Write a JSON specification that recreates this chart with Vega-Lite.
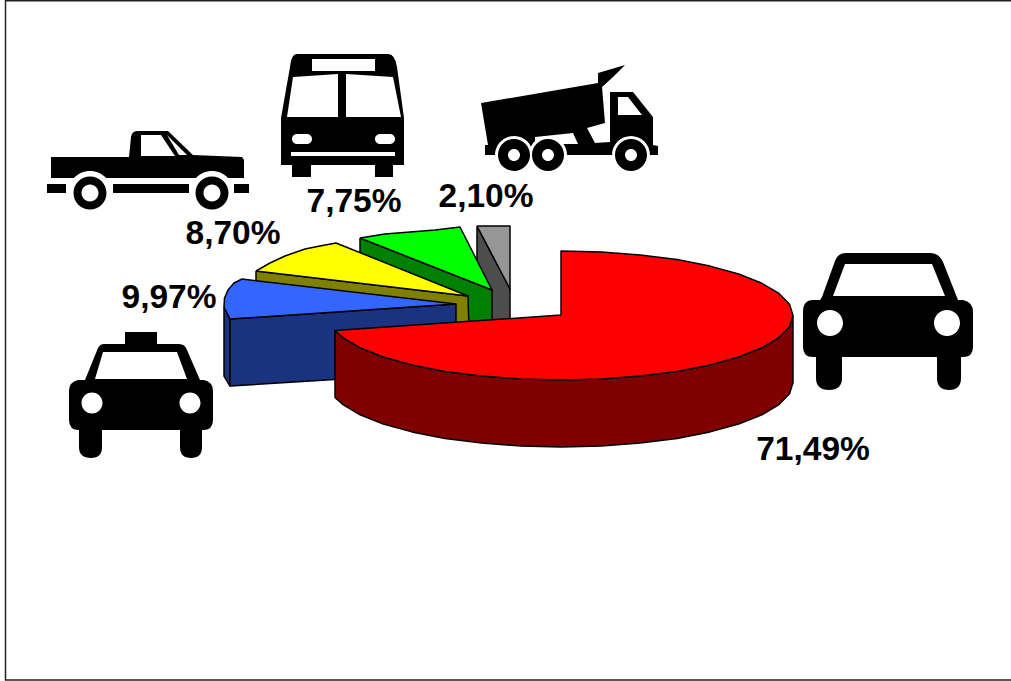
{"$schema":"https://vega.github.io/schema/vega-lite/v6.json","width":1011,"height":681,"padding":0,"autosize":"none","background":"white","config":{"view":{"stroke":null}},
"datasets":{
"shares":[
{"vehicle":"Automóvil","share":71.49,"label":"71,49%","label_x":813,"label_y":460,"icon_x":888,"icon_y":321},
{"vehicle":"Taxi","share":9.97,"label":"9,97%","label_x":169,"label_y":308,"icon_x":141,"icon_y":395},
{"vehicle":"Camioneta","share":8.70,"label":"8,70%","label_x":233,"label_y":244,"icon_x":148,"icon_y":171},
{"vehicle":"Bus","share":7.75,"label":"7,75%","label_x":354,"label_y":212,"icon_x":343,"icon_y":115},
{"vehicle":"Camión","share":2.10,"label":"2,10%","label_x":486,"label_y":207,"icon_x":570,"icon_y":118}],
"frame":[{"i":0,"x":1012,"y":0.8},{"i":1,"x":5.5,"y":0.8},{"i":2,"x":5.5,"y":680},{"i":3,"x":1012,"y":680}],
"faces":[
{"face":"Camión lado","i":0,"x":477,"y":226},{"face":"Camión lado","i":1,"x":510,"y":289},{"face":"Camión lado","i":2,"x":510,"y":330},{"face":"Camión lado","i":3,"x":477,"y":330},{"face":"Camión lado","i":4,"x":477,"y":226},
{"face":"Camión","i":0,"x":477,"y":226},{"face":"Camión","i":1,"x":510,"y":226},{"face":"Camión","i":2,"x":510,"y":289},{"face":"Camión","i":3,"x":477,"y":226},
{"face":"Bus lado","i":0,"x":360,"y":238},{"face":"Bus lado","i":1,"x":492,"y":290},{"face":"Bus lado","i":2,"x":492,"y":330},{"face":"Bus lado","i":3,"x":360,"y":300},{"face":"Bus lado","i":4,"x":360,"y":238},
{"face":"Bus","i":0,"x":360,"y":238},{"face":"Bus","i":1,"x":385,"y":234},{"face":"Bus","i":2,"x":410,"y":232},{"face":"Bus","i":3,"x":435,"y":230},{"face":"Bus","i":4,"x":460,"y":227},{"face":"Bus","i":5,"x":492,"y":290},{"face":"Bus","i":6,"x":360,"y":238},
{"face":"Camioneta lado","i":0,"x":256,"y":271},{"face":"Camioneta lado","i":1,"x":468,"y":296},{"face":"Camioneta lado","i":2,"x":469,"y":330},{"face":"Camioneta lado","i":3,"x":256,"y":290},{"face":"Camioneta lado","i":4,"x":256,"y":271},
{"face":"Camioneta","i":0,"x":256,"y":271},{"face":"Camioneta","i":1,"x":270,"y":263},{"face":"Camioneta","i":2,"x":285,"y":256},{"face":"Camioneta","i":3,"x":305,"y":249},{"face":"Camioneta","i":4,"x":320,"y":246},{"face":"Camioneta","i":5,"x":336,"y":243},{"face":"Camioneta","i":6,"x":468,"y":296},{"face":"Camioneta","i":7,"x":256,"y":271},
{"face":"Taxi borde","i":0,"x":224,"y":307},{"face":"Taxi borde","i":1,"x":230,"y":319},{"face":"Taxi borde","i":2,"x":230,"y":386},{"face":"Taxi borde","i":3,"x":224,"y":376},{"face":"Taxi borde","i":4,"x":224,"y":307},
{"face":"Taxi lado","i":0,"x":230,"y":319},{"face":"Taxi lado","i":1,"x":456,"y":304},{"face":"Taxi lado","i":2,"x":456,"y":372},{"face":"Taxi lado","i":3,"x":230,"y":386},{"face":"Taxi lado","i":4,"x":230,"y":319},
{"face":"Taxi","i":0,"x":456,"y":304},{"face":"Taxi","i":1,"x":242,"y":279},{"face":"Taxi","i":2,"x":234,"y":283},{"face":"Taxi","i":3,"x":228,"y":290},{"face":"Taxi","i":4,"x":224.5,"y":298},{"face":"Taxi","i":5,"x":224,"y":307},{"face":"Taxi","i":6,"x":230,"y":319},{"face":"Taxi","i":7,"x":456,"y":304},
{"face":"Automóvil lado","i":0,"x":793,"y":315.5},{"face":"Automóvil lado","i":1,"x":789.5,"y":326.7},{"face":"Automóvil lado","i":2,"x":779,"y":337.6},{"face":"Automóvil lado","i":3,"x":761.9,"y":347.8},{"face":"Automóvil lado","i":4,"x":738.7,"y":357},{"face":"Automóvil lado","i":5,"x":710.1,"y":364.9},{"face":"Automóvil lado","i":6,"x":677,"y":371.4},{"face":"Automóvil lado","i":7,"x":640.3,"y":376.1},{"face":"Automóvil lado","i":8,"x":601.3,"y":379},{"face":"Automóvil lado","i":9,"x":561,"y":380},{"face":"Automóvil lado","i":10,"x":520.7,"y":379},{"face":"Automóvil lado","i":11,"x":481.7,"y":376.1},{"face":"Automóvil lado","i":12,"x":445,"y":371.4},{"face":"Automóvil lado","i":13,"x":411.9,"y":364.9},{"face":"Automóvil lado","i":14,"x":383.3,"y":357},{"face":"Automóvil lado","i":15,"x":360.1,"y":347.8},{"face":"Automóvil lado","i":16,"x":343,"y":337.6},{"face":"Automóvil lado","i":17,"x":335,"y":330.5},
{"face":"Automóvil lado","i":18,"x":335,"y":397.5},{"face":"Automóvil lado","i":19,"x":343,"y":404.6},{"face":"Automóvil lado","i":20,"x":360.1,"y":414.8},{"face":"Automóvil lado","i":21,"x":383.3,"y":424},{"face":"Automóvil lado","i":22,"x":411.9,"y":431.9},{"face":"Automóvil lado","i":23,"x":445,"y":438.4},{"face":"Automóvil lado","i":24,"x":481.7,"y":443.1},{"face":"Automóvil lado","i":25,"x":520.7,"y":446},{"face":"Automóvil lado","i":26,"x":561,"y":447},{"face":"Automóvil lado","i":27,"x":601.3,"y":446},{"face":"Automóvil lado","i":28,"x":640.3,"y":443.1},{"face":"Automóvil lado","i":29,"x":677,"y":438.4},{"face":"Automóvil lado","i":30,"x":710.1,"y":431.9},{"face":"Automóvil lado","i":31,"x":738.7,"y":424},{"face":"Automóvil lado","i":32,"x":761.9,"y":414.8},{"face":"Automóvil lado","i":33,"x":779,"y":404.6},{"face":"Automóvil lado","i":34,"x":789.5,"y":393.7},{"face":"Automóvil lado","i":35,"x":793,"y":382.5},{"face":"Automóvil lado","i":36,"x":793,"y":315.5},
{"face":"Automóvil","i":0,"x":561,"y":315},{"face":"Automóvil","i":1,"x":561,"y":251},{"face":"Automóvil","i":2,"x":601.3,"y":252},{"face":"Automóvil","i":3,"x":640.3,"y":254.9},{"face":"Automóvil","i":4,"x":677,"y":259.6},{"face":"Automóvil","i":5,"x":710.1,"y":266.1},{"face":"Automóvil","i":6,"x":738.7,"y":274},{"face":"Automóvil","i":7,"x":761.9,"y":283.3},{"face":"Automóvil","i":8,"x":779,"y":293.4},{"face":"Automóvil","i":9,"x":789.5,"y":304.3},{"face":"Automóvil","i":10,"x":793,"y":315.5},{"face":"Automóvil","i":11,"x":789.5,"y":326.7},{"face":"Automóvil","i":12,"x":779,"y":337.6},{"face":"Automóvil","i":13,"x":761.9,"y":347.8},{"face":"Automóvil","i":14,"x":738.7,"y":357},{"face":"Automóvil","i":15,"x":710.1,"y":364.9},{"face":"Automóvil","i":16,"x":677,"y":371.4},{"face":"Automóvil","i":17,"x":640.3,"y":376.1},{"face":"Automóvil","i":18,"x":601.3,"y":379},{"face":"Automóvil","i":19,"x":561,"y":380},{"face":"Automóvil","i":20,"x":520.7,"y":379},{"face":"Automóvil","i":21,"x":481.7,"y":376.1},{"face":"Automóvil","i":22,"x":445,"y":371.4},{"face":"Automóvil","i":23,"x":411.9,"y":364.9},{"face":"Automóvil","i":24,"x":383.3,"y":357},{"face":"Automóvil","i":25,"x":360.1,"y":347.8},{"face":"Automóvil","i":26,"x":343,"y":337.6},{"face":"Automóvil","i":27,"x":335,"y":330.5},{"face":"Automóvil","i":28,"x":561,"y":315}
]},
"layer":[
{"data":{"name":"frame"},"mark":{"type":"line","stroke":"#222222","strokeWidth":1.5,"clip":false},"encoding":{"x":{"field":"x","type":"quantitative","scale":{"domain":[0,1011],"nice":false,"zero":false},"axis":null},"y":{"field":"y","type":"quantitative","scale":{"domain":[681,0],"nice":false,"zero":false},"axis":null},"order":{"field":"i","type":"quantitative"}}},
{"data":{"name":"faces"},"mark":{"type":"line","stroke":"black","strokeWidth":1.5,"strokeJoin":"round"},"encoding":{"x":{"field":"x","type":"quantitative","axis":null},"y":{"field":"y","type":"quantitative","axis":null},"order":{"field":"i","type":"quantitative"},"fill":{"field":"face","type":"nominal","legend":null,"scale":{"domain":["Camión lado","Camión","Bus lado","Bus","Camioneta lado","Camioneta","Taxi borde","Taxi lado","Taxi","Automóvil lado","Automóvil"],"range":["#4d4d4d","#969696","#008000","#00ff00","#808000","#ffff00","#1a3380","#1a3380","#3366ff","#800000","#ff0000"]}}}},
{"data":{"name":"shares"},"mark":{"type":"point","filled":true,"color":"black","opacity":1,"size":4,"strokeWidth":0},"encoding":{"x":{"field":"icon_x","type":"quantitative","axis":null},"y":{"field":"icon_y","type":"quantitative","axis":null},"shape":{"field":"vehicle","type":"nominal","legend":null,"scale":{"domain":["Automóvil","Taxi","Camioneta","Bus","Camión"],"range":[
"M -66 -24 L -53 -60 Q -50 -68 -42 -68 L 42 -68 Q 51 -68 55 -59 L 70 -21 L 75 -21 Q 85 -19 85 -9 L 85 26 Q 85 36 75 36 L 73 36 L 73 57 Q 73 69 61 69 Q 49 69 49 57 L 49 36 L -46 36 L -46 57 Q -46 69 -59 69 Q -72 69 -72 57 L -72 36 L -75 36 Q -85 36 -85 26 L -85 -9 Q -85 -21 -75 -21 L -68 -21 Z M -55 -25 L 57 -25 L 44 -57 L -43 -57 Z M -71 2 A 13 13 0 1 0 -45 2 A 13 13 0 1 0 -71 2 Z M 46 2 A 13 13 0 1 0 72 2 A 13 13 0 1 0 46 2 Z",
"M -56 -15 L -43 -47 Q -41 -51 -37 -51 L -16 -51 L -16 -63 L 16 -63 L 16 -51 L 38 -51 Q 44 -51 46 -45 L 59 -15 L 63 -15 Q 72 -13 72 -4 L 72 25 Q 72 35 62 35 L 61 35 L 61 52 Q 61 63 50 63 Q 39 63 39 52 L 39 35 L -39 35 L -39 52 Q -39 63 -50 63 Q -62 63 -62 52 L -62 35 Q -72 35 -72 25 L -72 -4 Q -72 -13 -63 -15 Z M -46 -16 L 46 -16 L 36 -43 L -38 -43 Z M -59.5 8 A 10.5 10.5 0 1 0 -38.5 8 A 10.5 10.5 0 1 0 -59.5 8 Z M 38.5 8 A 10.5 10.5 0 1 0 59.5 8 A 10.5 10.5 0 1 0 38.5 8 Z",
"M -97 -14 L -19 -14 L -17 -34 Q -16 -40 -11 -40 L 20 -40 L 45 -16 L 94 -14 L 96 -11 L 96 7 L 80 7 A 22 22 0 0 0 48 7 L -42 7 A 22 22 0 0 0 -74 7 L -97 7 Z M -7 -15 L 27 -15 L 13 -36 L -7 -36 Z M 31 -16 L 39 -16 L 19 -36 Z M -101 13 L -82 13 L -82 22 L -101 22 Z M -35 13 L 41 13 L 41 22 L -35 22 Z M 86 13 L 101 13 L 101 22 L 86 22 Z M -74.5 22 A 16.5 16.5 0 1 1 -41.5 22 A 16.5 16.5 0 1 1 -74.5 22 Z M -66.5 22 A 8.5 8.5 0 1 0 -49.5 22 A 8.5 8.5 0 1 0 -66.5 22 Z M 47.5 22 A 16.5 16.5 0 1 1 80.5 22 A 16.5 16.5 0 1 1 47.5 22 Z M 55.5 22 A 8.5 8.5 0 1 0 72.5 22 A 8.5 8.5 0 1 0 55.5 22 Z",
"M -46 -61 L 45 -61 Q 52 -61 54 -48 L 61 3 L 61 50 L 50 50 L 50 62 L 32 62 L 32 50 L -32 50 L -32 62 L -51 62 L -51 50 L -62 50 L -62 3 L -53 -48 Q -52 -61 -46 -61 Z M -31 -44 L 32 -44 L 32 -56 L -31 -56 Z M -56 2 L -5 2 L -5 -41 L -50 -38 Z M 3 2 L 58 2 L 50 -38 L 3 -41 Z M -46 29 L -36 29 A 5 5 0 0 0 -36 19 L -46 19 A 5 5 0 0 0 -46 29 Z M 37 29 L 47 29 A 5 5 0 0 0 47 19 L 37 19 A 5 5 0 0 0 37 29 Z M -52 41 L 52 41 L 52 37 L -52 37 Z",
"M -89 -15 L 28 -35 L 28 -45 L 55 -53 L 43 -41 L 32 -31 L 35 5 L 17 10 L 25 25 L 40 24 L 40 -26 L 63 -26 L 83 -1 L 83 27 L 88 28 L 88 37 L 80 37 A 19 19 0 0 0 42 37 L -3 37 A 19 19 0 0 0 -6.5 26 L 8 26 L 3 15 L -35 19 L -35 23 A 19 19 0 0 0 -39 28.5 A 19 19 0 0 0 -75 37 L -85 37 L -85 27 L -82 27 Z M 48 -3 L 72 -3 L 58 -21 L 48 -21 Z M -72 37 A 16 16 0 1 1 -40 37 A 16 16 0 1 1 -72 37 Z M -62 37 A 6 6 0 1 0 -50 37 A 6 6 0 1 0 -62 37 Z M -38 37 A 16 16 0 1 1 -6 37 A 16 16 0 1 1 -38 37 Z M -28 37 A 6 6 0 1 0 -16 37 A 6 6 0 1 0 -28 37 Z M 45 37 A 16 16 0 1 1 77 37 A 16 16 0 1 1 45 37 Z M 55 37 A 6 6 0 1 0 67 37 A 6 6 0 1 0 55 37 Z"
]}}}},
{"data":{"name":"shares"},"mark":{"type":"text","font":"Liberation Sans","fontWeight":"bold","fontSize":33.5,"align":"center","baseline":"alphabetic","color":"black"},"encoding":{"x":{"field":"label_x","type":"quantitative","axis":null},"y":{"field":"label_y","type":"quantitative","axis":null},"text":{"field":"label","type":"nominal"}}}
]}
